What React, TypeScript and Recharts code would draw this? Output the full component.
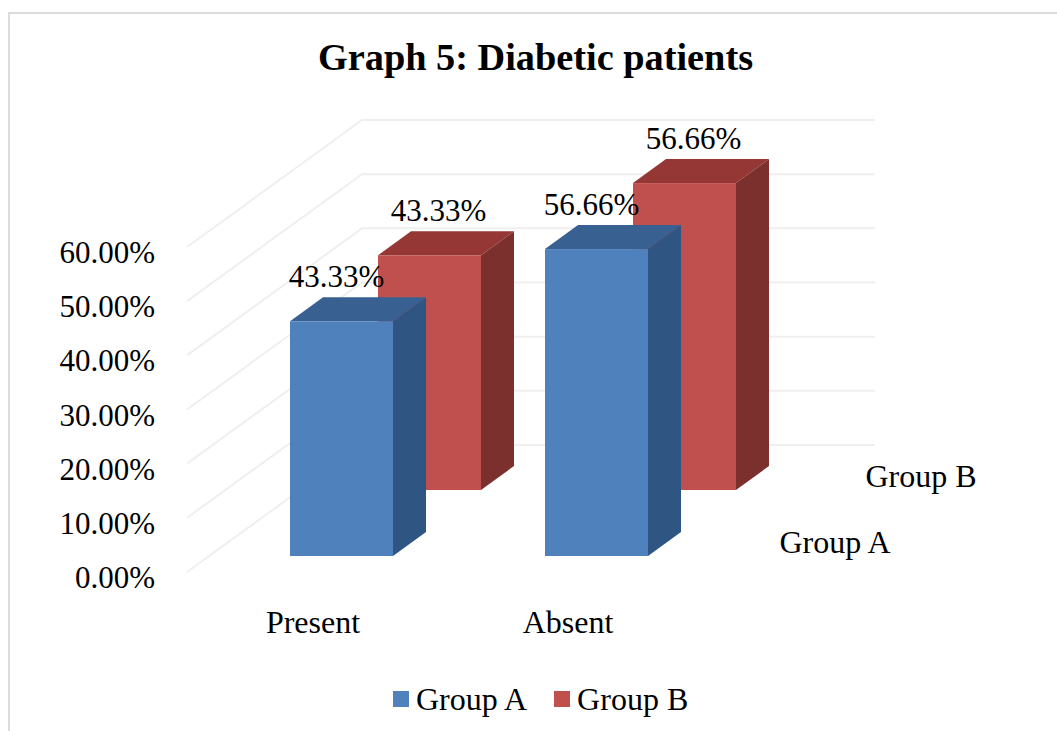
import React from 'react';
import { BarChart, Bar, XAxis, YAxis, CartesianGrid, Legend, LabelList, Customized } from 'recharts';

const categories = ['Present', 'Absent'];
const groupA = [43.33, 56.66];
const groupB = [43.33, 56.66];
const yTicks = [0, 10, 20, 30, 40, 50, 60];

const rows = categories.map((name, i) => ({ name, groupA: groupA[i], groupB: groupB[i] }));

const FONT = '"Liberation Serif", "Times New Roman", serif';
const NUMBER_SIZE = 31;
const WORD_SIZE = 32;

// Oblique projection of the chart's depth
const WALL_DX = 175;
const WALL_DY = -127;
const BAR_DX = 33;
const BAR_DY = -24;

const Box3D = (props: any) => {
  const { x, y, width, height, lift, front, top, side } = props;
  const yTop = y - lift;
  const yBase = yTop + height;
  const r = x + width;
  return (
    <g shapeRendering="geometricPrecision">
      <polygon points={`${x},${yTop} ${x + BAR_DX},${yTop + BAR_DY} ${r + BAR_DX},${yTop + BAR_DY} ${r},${yTop}`} fill={top} />
      <polygon points={`${r},${yTop} ${r + BAR_DX},${yTop + BAR_DY} ${r + BAR_DX},${yBase + BAR_DY} ${r},${yBase}`} fill={side} />
      <rect x={x} y={yTop} width={width} height={height} fill={front} />
    </g>
  );
};

const GridLine = (props: any) => {
  const { x1, x2, y1 } = props;
  const y = y1 - 5;
  return (
    <polyline
      points={`${x1},${y} ${x1 + WALL_DX},${y + WALL_DY} ${x2},${y + WALL_DY}`}
      fill="none"
      stroke="#efefef"
      strokeWidth={2}
    />
  );
};

const ValueLabel = (props: any) => {
  const { x, y, width, value, lift, shift } = props;
  return (
    <text
      x={x + width / 2 + shift}
      y={y - lift - 34}
      textAnchor="middle"
      fontFamily={FONT}
      fontSize={NUMBER_SIZE}
      fill="#000"
    >
      {`${Number(value).toFixed(2)}%`}
    </text>
  );
};

const CategoryTick = (props: any) => {
  const { x, y, payload } = props;
  return (
    <text x={x - 28.5} y={y} textAnchor="middle" dominantBaseline="central" fontFamily={FONT} fontSize={WORD_SIZE} fill="#000">
      {payload.value}
    </text>
  );
};

const ChartText = () => (
  <g fontFamily={FONT} fill="#000">
    <text x={535.5} y={70} textAnchor="middle" fontSize={38.3} fontWeight="bold">Graph 5: Diabetic patients</text>
    <text x={921} y={487} textAnchor="middle" fontSize={WORD_SIZE}>Group B</text>
    <text x={835} y={553} textAnchor="middle" fontSize={WORD_SIZE}>Group A</text>
  </g>
);

const legendItems = [
  { label: 'Group A', color: '#4f81bd' },
  { label: 'Group B', color: '#c0504d' },
];

const ChartLegend = () => (
  <div style={{ display: 'flex', fontFamily: FONT, fontSize: WORD_SIZE, color: '#000', lineHeight: '34px' }}>
    {legendItems.map((item) => (
      <div key={item.label} style={{ display: 'flex', alignItems: 'center', marginRight: 27 }}>
        <span style={{ width: 16, height: 16, background: item.color, marginRight: 7 }} />
        {item.label}
      </div>
    ))}
  </div>
);

export default function App() {
  return (
    <div style={{ position: 'absolute', left: 0, top: 0, width: 1057, height: 731, overflow: 'hidden', background: '#fff' }}>
      <div style={{ position: 'absolute', left: 8, top: 12, width: 1100, height: 800, border: '2px solid #dcdcdc', boxSizing: 'border-box' }} />
      <BarChart
        width={1057}
        height={731}
        data={rows}
        barSize={103}
        margin={{ top: 252, right: 182, bottom: 0, left: 0 }}
        style={{ position: 'absolute', left: 0, top: 0 }}
      >
        <CartesianGrid vertical={false} horizontal={(p: any) => <GridLine key={p.key ?? p.y1} {...p} />} />
        <XAxis
          xAxisId="front"
          dataKey="name"
          padding={{ left: 27, right: 151 }}
          axisLine={false}
          tickLine={false}
          tickSize={0}
          tickMargin={15}
          tick={CategoryTick}
          height={120}
          interval={0}
        />
        <XAxis xAxisId="back" dataKey="name" padding={{ left: 115, right: 63 }} hide />
        <YAxis
          domain={[0, 60]}
          ticks={yTicks}
          width={187}
          axisLine={false}
          tickLine={false}
          tickSize={0}
          tickMargin={32}
          interval={0}
          tickFormatter={(v: number) => `${v.toFixed(2)}%`}
          tick={{ fontFamily: FONT, fontSize: NUMBER_SIZE, fill: '#000' }}
        />
        <Legend
          content={<ChartLegend />}
          layout="horizontal"
          wrapperStyle={{ position: 'absolute', left: 393, top: 682, width: 'auto', bottom: 'auto' }}
        />
        <Bar
          xAxisId="back"
          dataKey="groupB"
          name="Group B"
          isAnimationActive={false}
          fill="#c0504d"
          shape={(p: any) => <Box3D {...p} lift={87} front="#c0504d" top="#953735" side="#7b302e" />}
        >
          <LabelList dataKey="groupB" content={(p: any) => <ValueLabel {...p} lift={87} shift={9} />} />
        </Bar>
        <Bar
          xAxisId="front"
          dataKey="groupA"
          name="Group A"
          isAnimationActive={false}
          fill="#4f81bd"
          shape={(p: any) => <Box3D {...p} lift={21} front="#4f81bd" top="#386192" side="#2f5583" />}
        >
          <LabelList dataKey="groupA" content={(p: any) => <ValueLabel {...p} lift={21} shift={-5} />} />
        </Bar>
        <Customized component={ChartText} />
      </BarChart>
    </div>
  );
}
